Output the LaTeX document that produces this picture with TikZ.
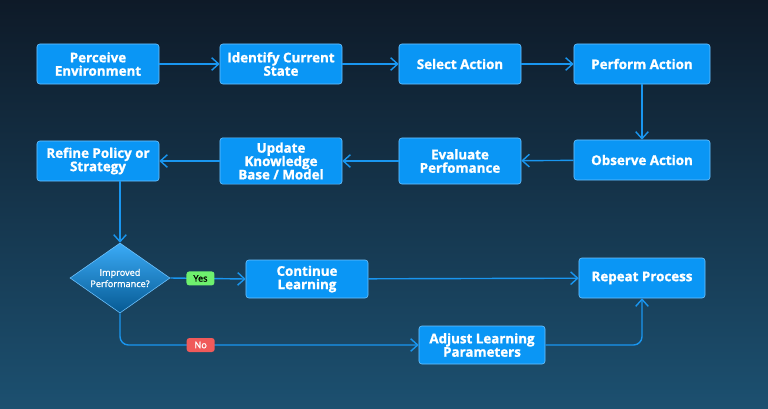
\documentclass[tikz,border=0pt]{standalone}
\usepackage{fontspec}
\setmainfont{Open Sans}[FakeBold=1.2]
\usetikzlibrary{shapes.geometric, arrows.meta, positioning, calc}
\definecolor{bgdark}{RGB}{14, 26, 40}
\definecolor{bglight}{RGB}{28, 80, 112}
\definecolor{boxblue}{RGB}{10, 150, 245}
\definecolor{boxedge}{RGB}{110, 195, 255}
\definecolor{linkblue}{RGB}{25, 150, 240}
\definecolor{yesgreen}{RGB}{110, 240, 110}
\definecolor{nored}{RGB}{240, 90, 90}
\tikzset{
  flowbox/.style={draw=boxedge, fill=boxblue, rounded corners=2pt, minimum width=3.05cm,
    minimum height=1cm, align=center, text=white, font=\bfseries\fontsize{9.5}{9.5}\selectfont},
  check/.style={diamond, draw=boxedge, top color=boxblue!80!white, bottom color=boxblue!60!black,
    minimum width=2.5cm, minimum height=1.75cm, aspect=1.45, inner sep=0pt, align=center,
    text=white, font=\fontsize{6.5}{8}\selectfont},
  link/.style={draw=linkblue, line width=1pt, rounded corners=6pt, -{Straight Barb[length=5pt, width=9pt]}},
  tag/.style={rounded corners=2pt, minimum width=0.7cm, minimum height=0.35cm, inner sep=1pt,
    font=\fontsize{6.5}{7}\selectfont},
}
\begin{document}
\begin{tikzpicture}[x=0.025cm, y=-0.025cm]
  % background
  \shade[left color=bgdark, right color=bglight, shading angle=0] (0,0) rectangle (768,408);
  \shade[top color=bgdark, bottom color=bglight, opacity=0.5] (0,0) rectangle (768,408);
  \useasboundingbox (0,0) rectangle (768,408);

  % first row
  \node[flowbox] (perceive) at (98,64) {Perceive\\Environment};
  \node[flowbox] (identify) at (281,64) {Identify Current\\State};
  \node[flowbox] (select) at (460,64) {Select Action};
  \node[flowbox, minimum width=3.4cm] (perform) at (642,64) {Perform Action};

  % second row
  \node[flowbox, minimum width=3.4cm] (observe) at (642,160) {Observe Action};
  \node[flowbox, minimum height=1.15cm] (evaluate) at (460,161) {Evaluate\\Perfomance};
  \node[flowbox, minimum height=1.15cm] (update) at (281,161) {Update\\Knowledge\\Base / Model};
  \node[flowbox] (refine) at (98,161) {Refine Policy or\\Strategy};

  % decision
  \node[check] (improved) at (120,278) {Improved\\Performance?};
  \node[flowbox, minimum height=0.95cm] (continue) at (307,279) {Continue\\Learning};
  \node[flowbox, minimum width=3.15cm] (repeat) at (642,278) {Repeat Process};
  \node[flowbox, minimum width=3.15cm, minimum height=0.95cm] (adjust) at (482,345) {Adjust Learning\\Parameters};
  \coordinate (nocorner) at (120,345);
  \coordinate (adjcorner) at (642,345);

  % connectors
  \draw[link] (perceive) -- (identify);
  \draw[link] (identify) -- (select);
  \draw[link] (select) -- (perform);
  \draw[link] (perform) -- (observe);
  \draw[link] (observe) -- (evaluate);
  \draw[link] (evaluate) -- (update);
  \draw[link] (update) -- (refine);
  \draw[link] (refine.south -| improved.north) -- (improved.north);
  \draw[link] (improved.east) -- node[tag, fill=yesgreen, text=black, pos=0.4] (yes) {Yes} (continue.west);
  \draw[link] (continue) -- (repeat);
  \draw[link] (improved.south) -- (nocorner) -- node[tag, fill=nored, text=white, pos=0.27] (no) {No} (adjust.west);
  \draw[link] (adjust.east) -- (adjcorner) -- (repeat.south);
\end{tikzpicture}
\end{document}
